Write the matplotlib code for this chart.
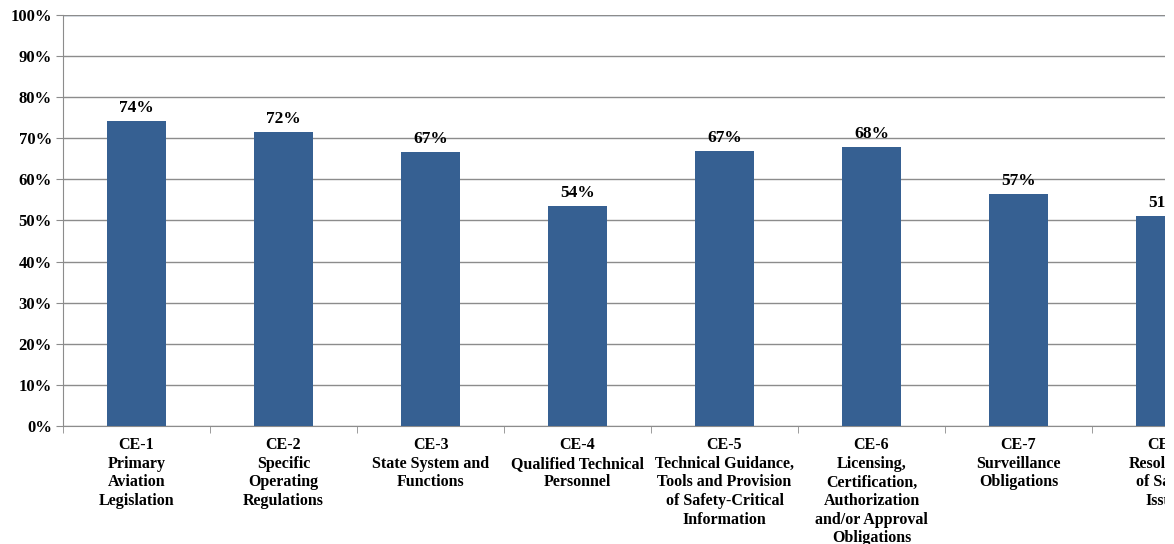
import numpy as np
import matplotlib
matplotlib.use("Agg")
from matplotlib import pyplot as plt
from matplotlib.ticker import FuncFormatter, MultipleLocator
from matplotlib.patches import Rectangle

# data
elements = ["CE-1\nPrimary\nAviation\nLegislation",
            "CE-2\nSpecific\nOperating\nRegulations",
            "CE-3\nState System and\nFunctions",
            "CE-4\nQualified Technical\nPersonnel",
            "CE-5\nTechnical Guidance,\nTools and Provision\nof Safety-Critical\nInformation",
            "CE-6\nLicensing,\nCertification,\nAuthorization\nand/or Approval\nObligations",
            "CE-7\nSurveillance\nObligations",
            "CE-8\nResolution\nof Safety\nIssues"]
scores = [74.3, 71.6, 66.7, 53.5, 67.0, 68.0, 56.5, 51.2]
score_labels = ["74%", "72%", "67%", "54%", "67%", "68%", "57%", "51%"]

plt.rcParams['font.family'] = ['Liberation Serif', 'DejaVu Serif']
plt.rcParams['font.weight'] = 'bold'

W, H = 1174, 544
fig = plt.figure(figsize=(W / 100, H / 100), dpi=100)
# plot area: left edge at x=63, category width ~147px, last bar runs off the picture
left, top, bottom, cat_w = 63, 15, 426, 147
ax = fig.add_axes([left / W, 1 - bottom / H, len(elements) * cat_w / W, (bottom - top) / H])

x = np.arange(len(elements))
bars = ax.bar(x, scores, width=0.4, color="#366092", zorder=3)
for b, lab in zip(bars, score_labels):
    ax.text(b.get_x() + b.get_width() / 2, b.get_height() + 1.2, lab,
            ha="center", va="bottom", fontsize=12.5, fontweight="bold")

ax.set_xlim(-0.5, len(elements) - 0.5)
ax.set_ylim(0, 100)
ax.yaxis.set_major_locator(MultipleLocator(10))
ax.yaxis.set_major_formatter(FuncFormatter(lambda v, p: f"{v:.0f}%"))
ax.grid(axis="y", color="#8c8c8c", linewidth=1, zorder=0)

ax.set_xticks(x)
ax.set_xticklabels(elements, fontsize=11.5, fontweight="bold", linespacing=1.22, va="top")
ax.set_xticks(np.arange(len(elements) + 1) - 0.5, minor=True)
ax.tick_params(axis="x", which="major", length=0, pad=8)
ax.tick_params(axis="x", which="minor", length=5, color="#8c8c8c")
ax.tick_params(axis="y", length=5, color="#8c8c8c", labelsize=12, pad=3)
for t in ax.get_yticklabels():
    t.set_fontweight("bold")

for s in ["top", "right"]:
    ax.spines[s].set_visible(False)
ax.spines["left"].set_color("#8c8c8c")
ax.spines["bottom"].set_color("#8c8c8c")
ax.axhline(100, color="#7f9cc0", linewidth=1, zorder=1)

# the original picture is cut off a few pixels before its right edge
fig.patches.append(Rectangle((1165 / W, 0), 1, 1, transform=fig.transFigure,
                             facecolor="white", edgecolor="none", zorder=10))

fig.savefig("out.png", dpi=100)
